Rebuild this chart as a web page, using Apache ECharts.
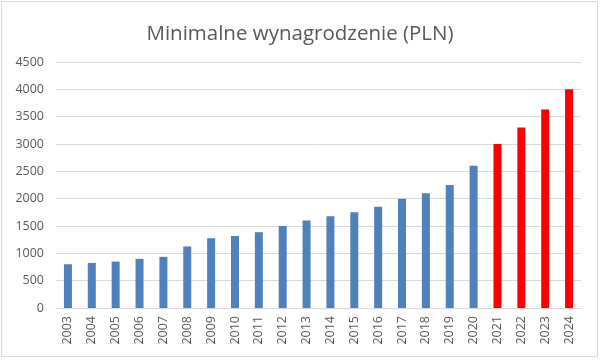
<!DOCTYPE html>
<html><head><meta charset="utf-8">
<script src="https://cdn.jsdelivr.net/npm/echarts@6/dist/echarts.min.js"></script>
<style>html,body{margin:0;padding:0;background:#fff}#c{width:600px;height:360px}</style>
</head><body><div id="c"></div>
<script>
const years = ['2003','2004','2005','2006','2007','2008','2009','2010','2011','2012','2013','2014','2015','2016','2017','2018','2019','2020','2021','2022','2023','2024'];
const wages = [800,824,849,899,936,1126,1276,1317,1386,1500,1600,1680,1750,1850,2000,2100,2250,2600,3000,3300,3630,4000];
const forecastFrom = '2021';
const yTicks = [0,500,1000,1500,2000,2500,3000,3500,4000,4500];

const fIdx = years.indexOf(forecastFrom);
const chart = echarts.init(document.getElementById('c'), null, {renderer:'canvas'});
chart.setOption({
  animation:false,
  backgroundColor:'#fff',
  title:{text:'Minimalne wynagrodzenie (PLN)', left:'center', top:19,
    textStyle:{fontFamily:'Open Sans', fontSize:20.5, fontWeight:'normal', color:'#595959'}},
  graphic:[{type:'rect', shape:{x:1.5,y:1.5,width:596,height:355}, style:{fill:null, stroke:'#d9d9d9', lineWidth:1}, silent:true}],
  grid:{left:56, right:19, top:62, bottom:52},
  xAxis:{type:'category', data:years,
    axisLine:{lineStyle:{color:'#d9d9d9'}}, axisTick:{show:false},
    axisLabel:{rotate:90, color:'#595959', fontFamily:'Open Sans', fontSize:12.5, margin:8}},
  yAxis:{type:'value', min:yTicks[0], max:yTicks[yTicks.length-1], interval:500,
    axisLine:{show:false}, axisTick:{show:false},
    splitLine:{lineStyle:{color:'#d9d9d9'}},
    axisLabel:{color:'#595959', fontFamily:'Open Sans', fontSize:12.5, margin:12, formatter:v=>String(v)}},
  series:[{type:'bar', barWidth:8,
    data:wages.map((v,i)=>({value:v, itemStyle:{color: i>=fIdx ? '#FF0000' : '#4F81BD'}}))}]
});
</script></body></html>
